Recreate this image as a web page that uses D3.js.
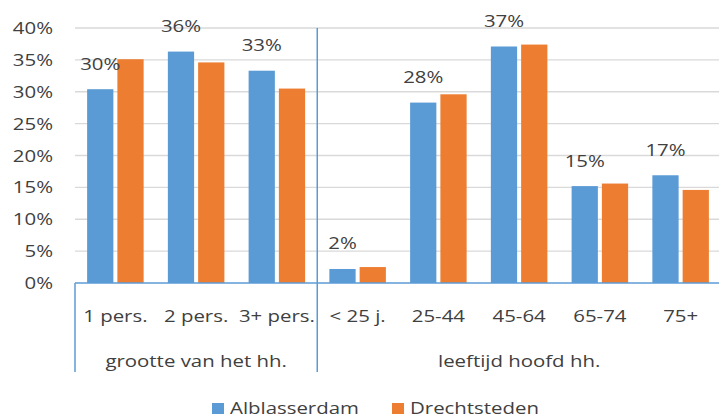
<!DOCTYPE html>
<html><head><meta charset="utf-8">
<script src="https://cdn.jsdelivr.net/npm/d3@7"></script>
<style>
html,body{margin:0;padding:0;background:#fff;overflow:hidden}
svg{display:block;font-family:"Open Sans",Lato,sans-serif}
</style></head>
<body>
<svg id="c" width="719" height="419"></svg>
<script>
const categories = ["1 pers.", "2 pers.", "3+ pers.", "< 25 j.", "25-44", "45-64", "65-74", "75+"];
const groups = [{name:"grootte van het hh.", from:0, to:3}, {name:"leeftijd hoofd hh.", from:3, to:8}];
const seriesNames = ["Alblasserdam", "Drechtsteden"];
const alblasserdam = [30.4, 36.3, 33.3, 2.2, 28.3, 37.1, 15.2, 16.9];
const drechtsteden = [35.1, 34.6, 30.5, 2.5, 29.6, 37.4, 15.6, 14.6];
const labels = ["30%", "36%", "33%", "2%", "28%", "37%", "15%", "17%"];
const yTicks = [0, 5, 10, 15, 20, 25, 30, 35, 40];
const colors = ["#5b9bd5", "#ed7d31"];

const svg = d3.select("#c");
const textColor = "#404040";
const FS = 17, SX = 1.2;
const x0 = d3.scaleBand().domain(categories).range([75, 721]).padding(0);
const x1 = d3.scaleBand().domain(seriesNames)
  .range([x0.bandwidth()*0.15, x0.bandwidth()*0.85]).paddingInner(0.133);
const y = d3.scaleLinear().domain([0, 40]).range([283, 28]);

// stretched text helper (the reference text is horizontally stretched)
function txt(sel, xf, yf) {
  return sel.attr("x", 0).attr("y", 0)
    .attr("transform", (d, i) => `translate(${xf(d, i)},${yf(d, i)}) scale(${SX},1)`)
    .attr("fill", textColor).attr("font-size", FS);
}

// gridlines
svg.append("g").selectAll("line").data(yTicks.filter(d => d > 0)).join("line")
  .attr("x1", 75).attr("x2", 719)
  .attr("y1", d => y(d)).attr("y2", d => y(d))
  .attr("stroke", "#d9d9d9").attr("stroke-width", 1.3);

// y tick labels
txt(svg.append("g").selectAll("text").data(yTicks).join("text"), () => 53, d => y(d) + 6)
  .attr("text-anchor", "end").text(d => d + "%");

// bars
const data = categories.map((c, i) => ({c, vals: [alblasserdam[i], drechtsteden[i]]}));
const cg = svg.append("g").selectAll("g").data(data).join("g")
  .attr("transform", d => `translate(${x0(d.c)},0)`);
cg.selectAll("rect").data(d => d.vals.map((v, j) => ({s: seriesNames[j], v, j}))).join("rect")
  .attr("x", d => x1(d.s)).attr("width", x1.bandwidth())
  .attr("y", d => y(d.v)).attr("height", d => y(0) - y(d.v))
  .attr("fill", d => colors[d.j]);

// data labels (first series)
txt(svg.append("g").selectAll("text").data(data).join("text"),
    d => x0(d.c) + x1(seriesNames[0]) + x1.bandwidth()/2,
    (d, i) => y(alblasserdam[i]) - 19.5)
  .attr("text-anchor", "middle").text((d, i) => labels[i]);

// axis lines
const axisColor = "#5b9bd5";
svg.append("line").attr("x1", 75).attr("x2", 719).attr("y1", y(0)).attr("y2", y(0))
  .attr("stroke", axisColor).attr("stroke-width", 1.5);
const seps = [0, 3];
svg.append("g").selectAll("line").data(seps).join("line")
  .attr("x1", d => x0(categories[d])).attr("x2", d => x0(categories[d]))
  .attr("y1", d => d === 0 ? y(0) : y(40)).attr("y2", 372)
  .attr("stroke", axisColor).attr("stroke-width", 1.5);

// category labels
txt(svg.append("g").selectAll("text").data(categories).join("text"),
    d => x0(d) + x0.bandwidth()/2, () => 322)
  .attr("text-anchor", "middle").text(d => d);

// group labels
txt(svg.append("g").selectAll("text").data(groups).join("text"),
    d => (x0(categories[d.from]) + (d.to < categories.length ? x0(categories[d.to]) : 721)) / 2,
    () => 367)
  .attr("text-anchor", "middle").text(d => d.name);

// legend
const legendX = [212, 392];
const lg = svg.append("g").selectAll("g").data(seriesNames).join("g")
  .attr("transform", (d, i) => `translate(${legendX[i]},0)`);
lg.append("rect").attr("x", 0).attr("y", 403).attr("width", 12).attr("height", 11)
  .attr("fill", (d, i) => colors[i]);
txt(lg.append("text"), () => 18, () => 414).text(d => d);
</script>
</body></html>
